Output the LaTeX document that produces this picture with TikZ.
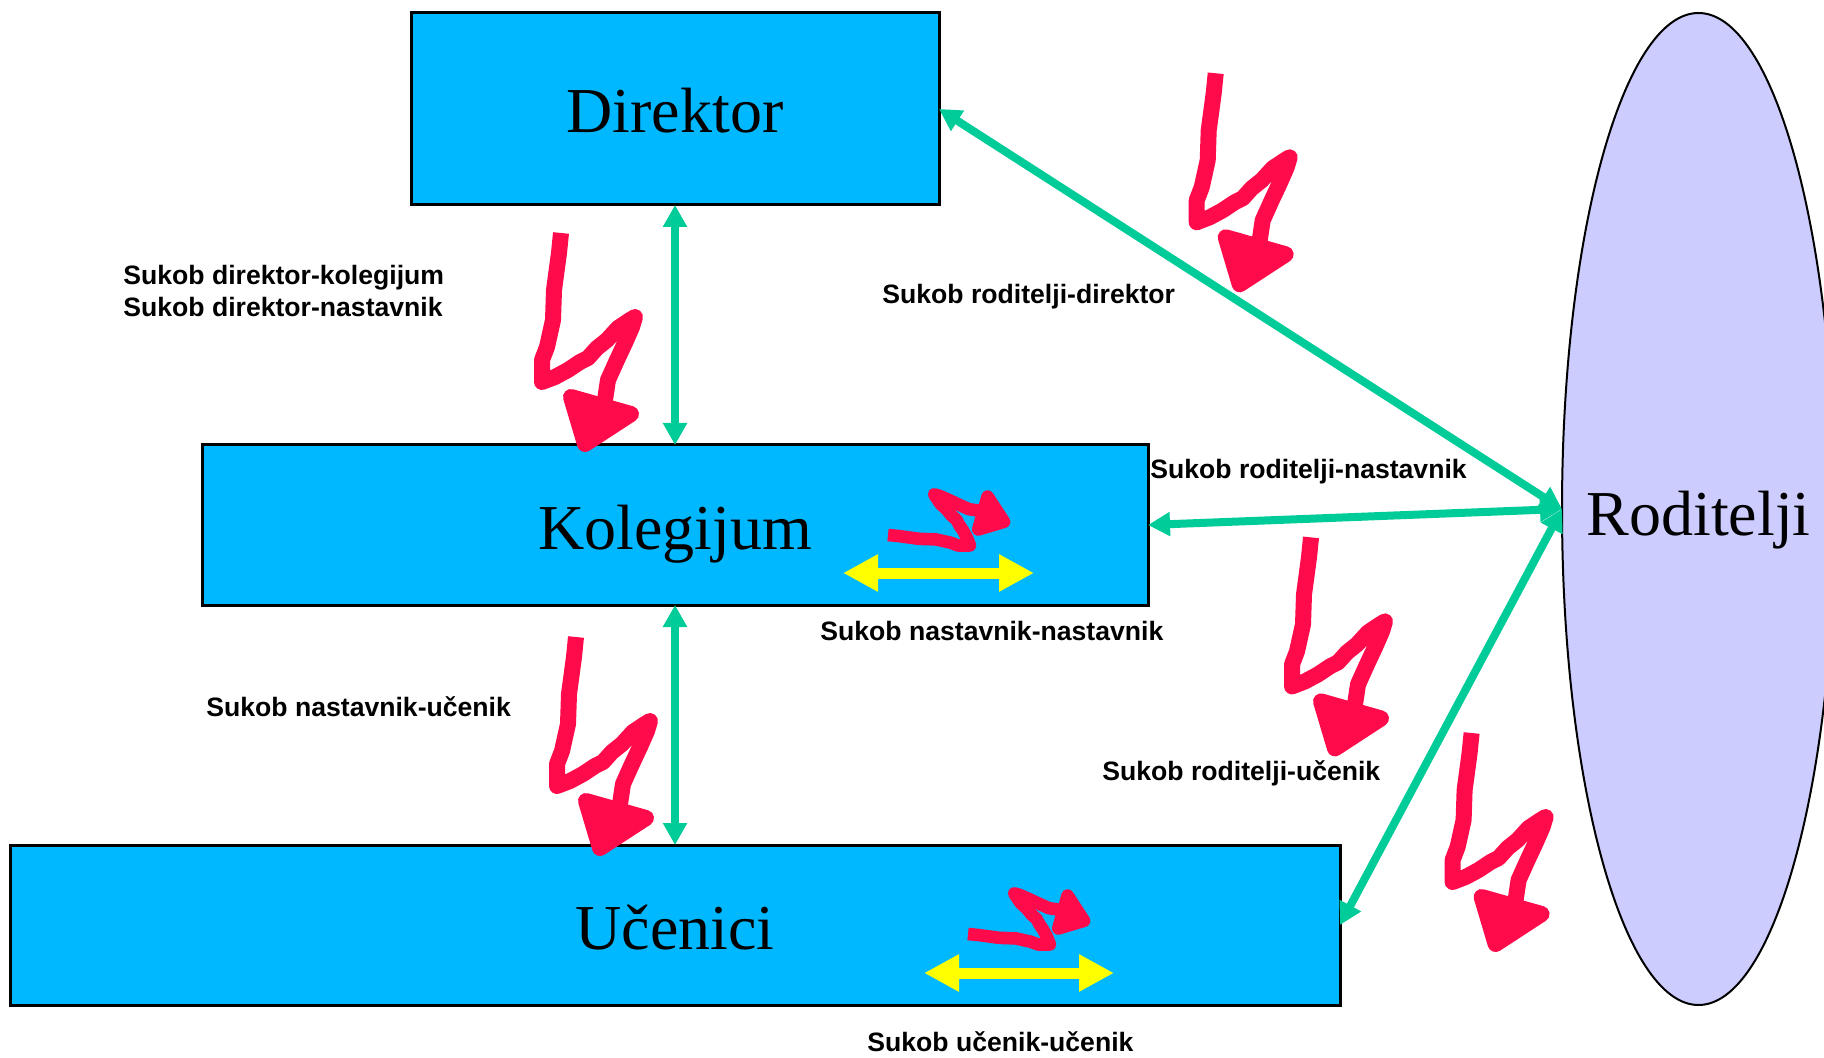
\documentclass[tikz,border=0pt]{standalone}
\usepackage{fontspec}
\setmainfont{Liberation Serif}
\setsansfont{Liberation Sans}
\usetikzlibrary{arrows.meta,shapes.geometric}
\definecolor{boxblue}{RGB}{0,184,255}
\definecolor{linkgreen}{RGB}{0,204,153}
\definecolor{boltred}{RGB}{255,10,74}
\definecolor{parentlilac}{RGB}{204,204,255}
\definecolor{peeryellow}{RGB}{255,255,0}
\tikzset{
  box/.style={draw=black, line width=1.5pt, fill=boxblue, rectangle, inner sep=0pt, outer sep=0pt,
    text height=24pt, text depth=0pt, font=\fontsize{32pt}{38pt}\selectfont},
  parent/.style={ellipse, draw=black, line width=1pt, fill=parentlilac, inner sep=0pt, outer sep=0pt,
    text height=26pt, text depth=0pt,
    minimum width=136.5pt, minimum height=496pt, font=\fontsize{32pt}{38pt}\selectfont},
  link/.style={draw=linkgreen, line width=4pt,
    {Triangle[length=11pt,width=11.5pt]}-{Triangle[length=11pt,width=11.5pt]}},
  peer/.style={draw=peeryellow, line width=5.5pt,
    {Triangle[length=17.5pt,width=17.5pt]}-{Triangle[length=17.5pt,width=17.5pt]}},
  lbl/.style={font=\sffamily\bfseries\fontsize{13.3pt}{16pt}\selectfont, anchor=base west, inner sep=0pt},
  bolt/.pic={
    \draw[boltred, line join=round, line cap=butt]
      (0,0) -- (-2,20) -- (-7,57) -- (-8,87) -- (-14,114) -- (-19,127) -- (-19,149)
      -- (-6,144) -- (7,137) -- (19,129) -- (27,125) -- (36,115) -- (46,107) -- (57,95)
      -- (69,87) -- (74,84) -- (71,94) -- (64,110) -- (56,127) -- (47,147) -- (44,167) -- (42,174);
    \filldraw[boltred, line join=round] (10,164) -- (70,181) -- (24,211) -- cycle;
  }
}
\begin{document}
\begin{tikzpicture}[x=0.5pt, y=-0.5pt]
\clip (0,0) rectangle (1824,1058);
\fill[white] (0,0) rectangle (1824,1058);

% boxes
\node[box, minimum width=264pt, minimum height=96pt] (dir) at (675,109) {Direktor};
\node[box, minimum width=473pt, minimum height=80pt] (kol) at (675,525) {Kolegijum};
\node[box, minimum width=665pt, minimum height=80pt] (uce) at (675,925) {Učenici};
\node[parent] (rod) at (1698.5,509) {\makebox[0pt][c]{Roditelji}};

% green links
\draw[link] (dir.south) -- (kol.north);
\draw[link] (kol.south) -- (uce.north);
\draw[link] (dir.east) -- (rod.west);
\draw[link] (kol.east) -- (rod.west);
\draw[link] (uce.east) -- (rod.west);

% yellow peer arrows
\coordinate (kpL) at (843,573);
\coordinate (kpR) at (1034,573);
\coordinate (upL) at (924,973);
\coordinate (upR) at (1114,973);
\draw[peer] (kpL) -- (kpR);
\draw[peer] (upL) -- (upR);

% red bolts
\path (1215.7,73.3) pic[line width=8pt] {bolt};
\path (561,233) pic[line width=8pt] {bolt};
\path (576,637) pic[line width=8pt] {bolt};
\path (1311,537.4) pic[line width=8pt] {bolt};
\path (1471.6,733) pic[line width=8pt] {bolt};
\path (888,535) pic[line width=6.3pt, rotate=90, scale=0.55] {bolt};
\path (968,934) pic[line width=6.3pt, rotate=90, scale=0.55] {bolt};

% labels
\node[lbl] (la1) at (123,285) {Sukob direktor-kolegijum};
\node[lbl] (la2) at (123,317) {Sukob direktor-nastavnik};
\node[lbl] (lb) at (882,304) {Sukob roditelji-direktor};
\node[lbl] (lc) at (1150,479) {Sukob roditelji-nastavnik};
\node[lbl] (ld) at (820,640) {Sukob nastavnik-nastavnik};
\node[lbl] (le) at (206,716) {Sukob nastavnik-učenik};
\node[lbl] (lf) at (1102,780) {Sukob roditelji-učenik};
\node[lbl] (lg) at (867,1051) {Sukob učenik-učenik};
\end{tikzpicture}
\end{document}
